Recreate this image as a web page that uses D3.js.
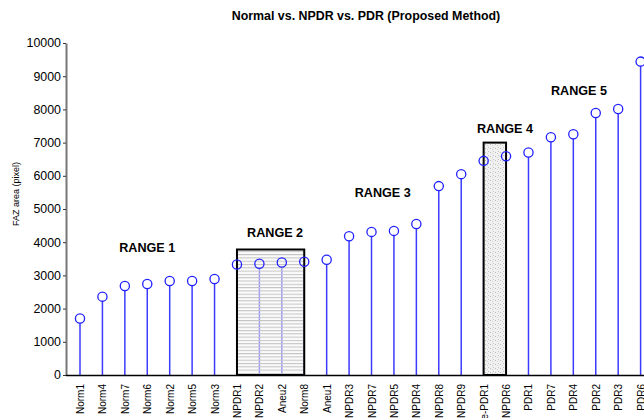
<!DOCTYPE html>
<html>
<head>
<meta charset="utf-8">
<script src="https://cdn.jsdelivr.net/npm/d3@7"></script>
<style>
body{margin:0;background:#fff}
svg{display:block;font-family:Arial,"Liberation Sans",Helvetica,sans-serif}
</style>
</head>
<body>
<script>
// subjects, sorted by FAZ area
const labels = ["Norm1","Norm4","Norm7","Norm6","Norm2","Norm5","Norm3","NPDR1","NPDR2","Aneu2","Norm8","Aneu1",
  "NPDR3","NPDR7","NPDR5","NPDR4","NPDR8","NPDR9","Pre-PDR1","NPDR6","PDR1","PDR7","PDR4","PDR2","PDR3","PDR6"]
const faz = [1700,2360,2680,2740,2830,2830,2890,3330,3350,3390,3410,3470,
  4180,4310,4340,4550,5690,6050,6450,6590,6700,7160,7250,7890,8010,9440]
const yTicks = [0,1000,2000,3000,4000,5000,6000,7000,8000,9000,10000]

// range annotations (position in subject index, level in pixel area)
const rangeNames = ["RANGE 1","RANGE 2","RANGE 3","RANGE 4","RANGE 5"]
const rangeAt = [3.0, 8.7, 13.5, 18.95, 22.25]
const rangeLevel = [3850, 4280, 5510, 7440, 8580]

// boxed groups
const boxFrom = ["NPDR1","Pre-PDR1"]
const boxTo = ["Norm8","NPDR6"]
const boxTop = [3780, 7000]

const w = 644, h = 418

const svg = d3.select("body").append("svg")
  .attr("width", w)
  .attr("height", h)

const x = d3.scalePoint().domain(labels).range([80, 640.6])
const xi = d3.scaleLinear().domain([0, labels.length-1]).range(x.range())
const y = d3.scaleLinear().domain([0, 10000]).range([375, 43])

// patterns for the boxes
const defs = svg.append("defs")
const hatch = defs.append("pattern").attr("id","hatch")
  .attr("patternUnits","userSpaceOnUse").attr("width",6).attr("height",3.3)
hatch.append("rect").attr("width",6).attr("height",3.3).attr("fill","#f7f7f7").attr("fill-opacity",0.5)
hatch.append("line").attr("x1",0).attr("x2",6).attr("y1",0.5).attr("y2",0.5)
  .attr("stroke","#c4c4c4").attr("stroke-width",1.1)

const speck = defs.append("pattern").attr("id","speck")
  .attr("patternUnits","userSpaceOnUse").attr("width",5).attr("height",4)
speck.append("rect").attr("width",5).attr("height",4).attr("fill","#f1f1f1")
speck.append("rect").attr("x",0).attr("y",0).attr("width",1).attr("height",1).attr("fill","#bdbdbd")
speck.append("rect").attr("x",2).attr("y",1).attr("width",1).attr("height",1).attr("fill","#cfcfcf")
speck.append("rect").attr("x",3).attr("y",3).attr("width",1).attr("height",1).attr("fill","#c4c4c4")

// title
svg.append("text")
  .attr("x", 366).attr("y", 20)
  .attr("text-anchor","middle")
  .attr("font-size","12.4px").attr("font-weight","bold")
  .text("Normal vs. NPDR vs. PDR (Proposed Method)")

// stems
svg.selectAll(".stem")
  .data(labels)
  .enter()
  .append("line")
  .attr("class","stem")
  .attr("x1", d => x(d)).attr("x2", d => x(d))
  .attr("y1", y(0))
  .attr("y2", (d,i) => y(faz[i]) + 4.5)
  .attr("stroke","#3b3bff")
  .attr("stroke-width",1.5)

// boxes
svg.selectAll(".box")
  .data(boxTop)
  .enter()
  .append("rect")
  .attr("class","box")
  .attr("x", (d,i) => x(boxFrom[i]))
  .attr("y", d => y(d))
  .attr("width", (d,i) => x(boxTo[i]) - x(boxFrom[i]))
  .attr("height", d => y(0) - y(d))
  .attr("fill", (d,i) => i == 0 ? "url(#hatch)" : "url(#speck)")
  .attr("stroke","#000")
  .attr("stroke-width",2)

// markers
svg.selectAll(".dot")
  .data(labels)
  .enter()
  .append("circle")
  .attr("class","dot")
  .attr("cx", d => x(d))
  .attr("cy", (d,i) => y(faz[i]))
  .attr("r", 4.6)
  .attr("fill","none")
  .attr("stroke","#2020ff")
  .attr("stroke-width",1.3)

// range labels
svg.selectAll(".range")
  .data(rangeNames)
  .enter()
  .append("text")
  .attr("class","range")
  .attr("x", (d,i) => xi(rangeAt[i]))
  .attr("y", (d,i) => y(rangeLevel[i]))
  .attr("dy","0.36em")
  .attr("text-anchor","middle")
  .attr("font-size","12.6px").attr("font-weight","bold")
  .text(d => d)

// axes
const yAxis = d3.axisLeft(y).tickValues(yTicks).tickSize(3).tickSizeOuter(0).tickFormat(d3.format("d"))
const gy = svg.append("g")
  .attr("transform","translate(66,0)")
  .call(yAxis)
gy.select(".domain").attr("stroke","#777").attr("stroke-width",2)
gy.selectAll(".tick line").attr("stroke","#333")
gy.selectAll(".tick text").attr("font-size","12.4px").attr("fill","#000").attr("font-family",null).attr("x",-5)

const xAxis = d3.axisBottom(x).tickSize(0).tickSizeOuter(0)
const gx = svg.append("g")
  .attr("transform","translate(0,"+y(0)+")")
  .call(xAxis)
gx.select(".domain").attr("d","M66,0.5H644").attr("stroke","#000").attr("stroke-width",1.6)
gx.selectAll(".tick text")
  .attr("font-size","10px").attr("fill","#000").attr("font-family",null)
  .attr("transform","rotate(-90)")
  .attr("text-anchor","end")
  .attr("x",-9).attr("y",0).attr("dy","0.35em")

svg.append("text")
  .attr("transform","translate(19,194) rotate(-90)")
  .attr("text-anchor","middle")
  .attr("font-size","9px")
  .text("FAZ area (pixel)")
</script>
</body>
</html>
